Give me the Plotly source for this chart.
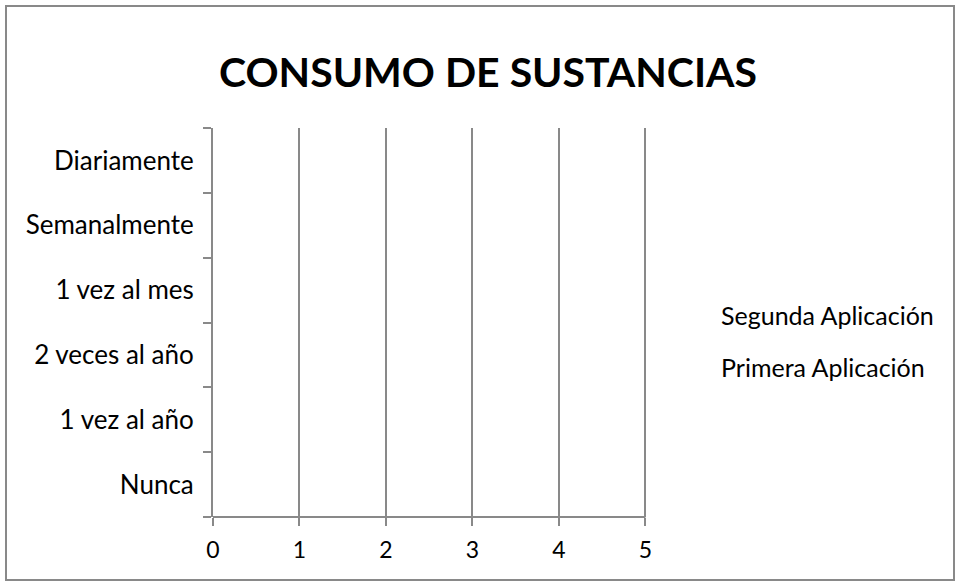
import plotly.graph_objects as go

categories = ["Nunca", "1 vez al año", "2 veces al año", "1 vez al mes", "Semanalmente", "Diariamente"]
primera = [0, 0, 0, 0, 0, 0]
segunda = [0, 0, 0, 0, 0, 0]
x_ticks = [0, 1, 2, 3, 4, 5]
x_tick_labels = ["0", "1", "2", "3", "4", "5"]

FONT = "Lato"
GRAY = "#898989"

fig = go.Figure()
fig.add_trace(go.Bar(y=categories, x=segunda, orientation="h", name="Segunda Aplicación",
                     marker=dict(color="rgba(0,0,0,0)", line=dict(width=0)), legendgroup="s"))
fig.add_trace(go.Bar(y=categories, x=primera, orientation="h", name="Primera Aplicación",
                     marker=dict(color="rgba(0,0,0,0)", line=dict(width=0)), legendgroup="p"))

W, H = 957, 584
L, R, T, B = 213, 309, 128, 584 - 517
pw, ph = W - L - R, H - T - B

def px_x(v):
    return (v - L) / pw

def px_y(v):
    return (H - B - v) / ph

fig.update_layout(
    width=W, height=H,
    margin=dict(l=L, r=R, t=T, b=B),
    paper_bgcolor="white", plot_bgcolor="white",
    font=dict(family=FONT, size=26, color="black"),
    title=dict(text="<b>CONSUMO DE SUSTANCIAS</b>", x=488 / W, xanchor="center",
               y=1 - 73 / H, yanchor="middle", xref="container", yref="container",
               font=dict(family=FONT, size=41, color="black")),
    showlegend=True,
    legend=dict(x=681 / W, xref="container", y=1 - 292 / H, yref="container",
                xanchor="left", yanchor="top", traceorder="grouped",
                tracegroupgap=17, font=dict(size=25), bgcolor="rgba(0,0,0,0)"),
    barmode="group",
    hovermode=False,
    xaxis=dict(range=[0, 5.03], tickvals=x_ticks, ticktext=x_tick_labels,
               showgrid=True, gridcolor=GRAY, gridwidth=2,
               showline=False,
               ticks="outside", ticklen=8, tickwidth=2, tickcolor=GRAY,
               tickfont=dict(size=23),
               ticklabelstandoff=4, zeroline=False, fixedrange=True),
    yaxis=dict(type="category", categoryorder="array", categoryarray=categories,
               range=[-0.5, len(categories) - 0.5],
               showgrid=False, showline=True, linecolor=GRAY, linewidth=2,
               ticks="outside", ticklen=8, tickwidth=2, tickcolor=GRAY,
               tickson="boundaries", ticklabelstandoff=12, zeroline=False,
               fixedrange=True),
    shapes=[
        dict(type="rect", xref="paper", yref="paper",
             x0=px_x(6), x1=px_x(954), y0=px_y(580), y1=px_y(6),
             line=dict(color=GRAY, width=2), fillcolor="rgba(0,0,0,0)", layer="below"),
        dict(type="line", xref="x", yref="paper", x0=0, x1=5, y0=0, y1=0,
             line=dict(color=GRAY, width=2)),
    ],
)

fig.write_html("out.html", config={"displayModeBar": False, "staticPlot": True},
               post_script="document.body.style.margin='0';document.body.style.overflow='hidden';")
